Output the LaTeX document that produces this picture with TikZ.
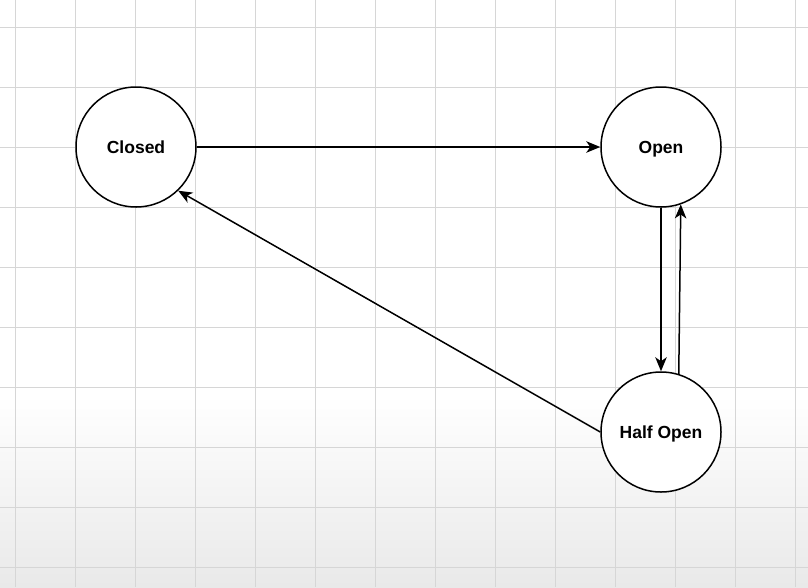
\documentclass[tikz,border=0pt]{standalone}
\usepackage{fontspec}
\setmainfont{Liberation Sans}
\usetikzlibrary{arrows.meta}
\definecolor{gridline}{HTML}{D6D6D6}
\definecolor{shade}{HTML}{E9E9E9}
\begin{document}
\begin{tikzpicture}[x=1pt,y=-1pt,
  state/.style={circle,draw=black,line width=1.5pt,fill=white,
    minimum size=120pt,inner sep=0pt,text height=12.6pt,text depth=0pt,
    font=\bfseries\fontsize{17.5}{20}\selectfont},
  flow/.style={draw=black,line width=1.5pt,
    -{Stealth[length=14pt,width=11.5pt,inset=4pt]}}]
  % canvas with a soft shade towards the bottom
  \fill[white] (0,0) rectangle (808,587);
  \shade[top color=white,bottom color=shade] (0,395) rectangle (808,587);
  \useasboundingbox (0,0) rectangle (808,587);
  % grid
  \foreach \gx in {15,75,...,795} \draw[gridline,line width=1pt] (\gx,0) -- (\gx,587);
  \foreach \gy in {27,87,...,567} \draw[gridline,line width=1pt] (0,\gy) -- (808,\gy);
  % states
  \node[state] (closed) at (136,147) {Closed};
  \node[state] (open) at (661,147) {Open};
  \node[state] (half) at (661,432) {Half Open};
  % transitions
  \draw[flow] (closed.east) -- (open.west);
  \draw[flow] (open.south) -- (half.north);
  \draw[flow] (half.73) -- (open.-71);
  \draw[flow] (half.west) -- (closed.-46);
\end{tikzpicture}
\end{document}
